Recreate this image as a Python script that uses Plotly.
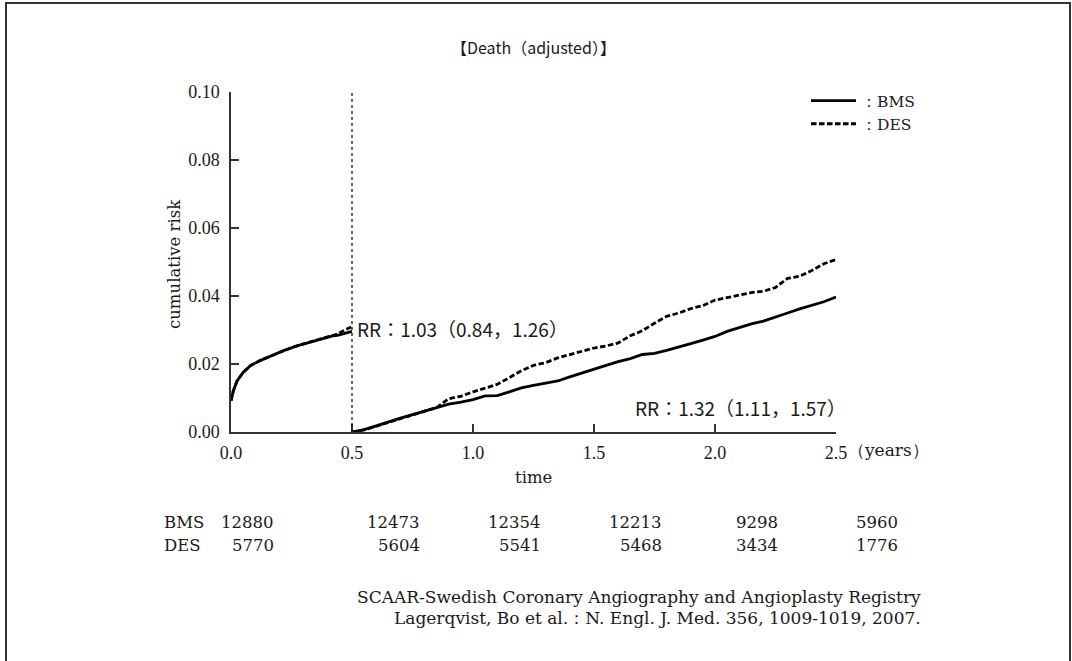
import plotly.graph_objects as go

# ---------------- data ----------------
seg1_time = [0.0, 0.01, 0.025, 0.05, 0.08, 0.12, 0.17, 0.22, 0.28, 0.33, 0.38, 0.42, 0.44, 0.47, 0.5]
bms_seg1 = [0.0092, 0.0122, 0.0150, 0.0175, 0.0195, 0.0210, 0.0225, 0.0240, 0.0255, 0.0265, 0.0275, 0.0283, 0.0284, 0.0290, 0.0296]
des_seg1 = [0.0092, 0.0122, 0.0150, 0.0175, 0.0195, 0.0210, 0.0225, 0.0240, 0.0255, 0.0265, 0.0275, 0.0283, 0.0288, 0.0300, 0.0310]

seg2_time = [0.5, 0.55, 0.6, 0.65, 0.7, 0.75, 0.8, 0.85, 0.9, 0.95, 1.0, 1.05, 1.1, 1.15, 1.2,
             1.25, 1.3, 1.35, 1.4, 1.45, 1.5, 1.55, 1.6, 1.65, 1.7, 1.75, 1.8, 1.85, 1.9, 1.95,
             2.0, 2.05, 2.1, 2.15, 2.2, 2.25, 2.3, 2.35, 2.4, 2.45, 2.5]
bms_seg2 = [0.0, 0.0007, 0.0018, 0.0030, 0.0041, 0.0051, 0.0062, 0.0071, 0.0082, 0.0088, 0.0095,
            0.0106, 0.0107, 0.0118, 0.0130, 0.0137, 0.0143, 0.0150, 0.0162, 0.0174, 0.0185,
            0.0196, 0.0207, 0.0216, 0.0228, 0.0231, 0.0240, 0.0249, 0.0260, 0.0270, 0.0281,
            0.0296, 0.0307, 0.0318, 0.0326, 0.0339, 0.0350, 0.0362, 0.0373, 0.0383, 0.0397]
des_seg2 = [0.0, 0.0006, 0.0017, 0.0028, 0.0040, 0.0050, 0.0063, 0.0072, 0.0098, 0.0105, 0.0118,
            0.0130, 0.0140, 0.0160, 0.0180, 0.0196, 0.0204, 0.0218, 0.0228, 0.0238, 0.0247,
            0.0253, 0.0262, 0.0283, 0.0298, 0.0320, 0.0340, 0.0350, 0.0363, 0.0372, 0.0388,
            0.0395, 0.0402, 0.0410, 0.0414, 0.0425, 0.0452, 0.0458, 0.0475, 0.0495, 0.0507]

x_ticks = [0.0, 0.5, 1.0, 1.5, 2.0, 2.5]
x_tick_labels = ["0.0", "0.5", "1.0", "1.5", "2.0", "2.5"]
y_ticks = [0.0, 0.02, 0.04, 0.06, 0.08, 0.10]
y_tick_labels = ["0.00", "0.02", "0.04", "0.06", "0.08", "0.10"]

risk_times = [0.0, 0.5, 1.0, 1.5, 2.0, 2.5]
bms_at_risk = [12880, 12473, 12354, 12213, 9298, 5960]
des_at_risk = [5770, 5604, 5541, 5468, 3434, 1776]

landmark = 0.5
rr_early = "RR：1.03（0.84，1.26）"
rr_late = "RR：1.32（1.11，1.57）"

# ---------------- styles ----------------
SERIF_NUM = "Liberation Serif, serif"
SERIF = "DejaVu Serif, serif"
SANS = "Noto Sans CJK JP, Noto Sans, sans-serif"
INK = "#1a1a1a"
risk_label_shift = [45, 70, 70, 70, 65, 64]   # px right-edge offset of each at-risk column

fig = go.Figure()
fig.add_trace(go.Scatter(
    x=seg1_time + [None] + seg2_time, y=bms_seg1 + [None] + bms_seg2,
    mode="lines", name="：BMS", connectgaps=False,
    line=dict(color="black", width=2.8)))
fig.add_trace(go.Scatter(
    x=seg1_time + [None] + seg2_time, y=des_seg1 + [None] + des_seg2,
    mode="lines", name="：DES", connectgaps=False,
    line=dict(color="black", width=2.8, dash="5.5px,2.5px")))

# landmark line
fig.add_shape(type="line", xref="x", yref="y", x0=landmark, x1=landmark, y0=0, y1=0.10,
              line=dict(color="black", width=1.2, dash="dot"))

# frame around the figure
fig.add_shape(type="rect", xref="paper", yref="paper",
              x0=(6 - 231) / 605, x1=(1070 - 231) / 605,
              y0=(432 - 700) / 340, y1=(432 - 3) / 340,
              line=dict(color="#333", width=2), layer="below")

ann = []
ann.append(dict(text="【Death（adjusted）】", xref="paper", yref="paper", x=0.5, y=(432 - 47) / 340,
                showarrow=False, font=dict(family=SANS, size=16, color=INK), xanchor="center", yanchor="middle"))
ann.append(dict(text="cumulative risk", xref="paper", yref="paper", x=(174 - 231) / 605, y=(432 - 264) / 340,
                textangle=-90, showarrow=False, font=dict(family=SERIF, size=16.5, color=INK),
                xanchor="center", yanchor="middle"))
ann.append(dict(text="time", xref="paper", yref="paper", x=0.5, y=(432 - 477) / 340,
                showarrow=False, font=dict(family=SERIF, size=16.5, color=INK), xanchor="center", yanchor="middle"))
ann.append(dict(text="（years）", xref="x", yref="paper", x=x_ticks[-1], xshift=10, y=(432 - 450) / 340,
                showarrow=False, font=dict(family=SERIF, size=17, color=INK), xanchor="left", yanchor="middle"))
ann.append(dict(text=rr_early, xref="x", yref="y", x=landmark, xshift=3, y=0.0305,
                showarrow=False, font=dict(family=SANS, size=19, color=INK), xanchor="left", yanchor="middle"))
ann.append(dict(text=rr_late, xref="x", yref="y", x=x_ticks[-1], xshift=12, y=0.0071,
                showarrow=False, font=dict(family=SANS, size=19, color=INK), xanchor="right", yanchor="middle"))

# numbers at risk table
row_y = {"BMS": (432 - 522) / 340, "DES": (432 - 545) / 340}
for label, vals in (("BMS", bms_at_risk), ("DES", des_at_risk)):
    ann.append(dict(text=label, xref="paper", yref="paper", x=(162 - 231) / 605, y=row_y[label],
                    showarrow=False, font=dict(family=SERIF, size=16.5, color=INK),
                    xanchor="left", yanchor="middle"))
    for t, v, sh in zip(risk_times, vals, risk_label_shift):
        ann.append(dict(text=str(v), xref="x", yref="paper", x=t, xshift=sh, y=row_y[label],
                        showarrow=False, font=dict(family=SERIF, size=16.5, color=INK),
                        xanchor="right", yanchor="middle"))

ann.append(dict(text="SCAAR-Swedish Coronary Angiography and Angioplasty Registry",
                xref="paper", yref="paper", x=(923 - 231) / 605, y=(432 - 597) / 340,
                showarrow=False, font=dict(family=SERIF, size=17, color=INK), xanchor="right", yanchor="middle"))
ann.append(dict(text="Lagerqvist, Bo et al.：N. Engl. J. Med. 356, 1009-1019, 2007.",
                xref="paper", yref="paper", x=(923 - 231) / 605, y=(432 - 618) / 340,
                showarrow=False, font=dict(family=SERIF, size=17, color=INK), xanchor="right", yanchor="middle"))

fig.update_layout(
    width=1072, height=661,
    margin=dict(l=231, r=236, t=92, b=229),
    paper_bgcolor="white", plot_bgcolor="white",
    font=dict(family=SERIF, size=16, color=INK),
    showlegend=True,
    legend=dict(x=(806 - 231) / 605, y=(432 - 84) / 340, xanchor="left", yanchor="top",
                bgcolor="rgba(0,0,0,0)", font=dict(family=SERIF, size=15.5, color=INK),
                itemwidth=45, tracegroupgap=0),
    annotations=ann,
    xaxis=dict(range=[0, 2.5], tickvals=x_ticks, ticktext=x_tick_labels, showline=True,
               linecolor="#333", linewidth=1.5, ticks="inside", ticklen=8, tickwidth=1.5,
               tickcolor="#333", showgrid=False, zeroline=False, ticklabelstandoff=4,
               tickfont=dict(family=SERIF_NUM, size=18, color=INK)),
    yaxis=dict(range=[0, 0.10], tickvals=y_ticks, ticktext=y_tick_labels, showline=True,
               linecolor="#333", linewidth=1.5, ticks="inside", ticklen=8, tickwidth=1.5,
               tickcolor="#333", showgrid=False, zeroline=False, ticklabelstandoff=6,
               tickfont=dict(family=SERIF_NUM, size=18, color=INK)),
)

fig.write_html("out.html")
